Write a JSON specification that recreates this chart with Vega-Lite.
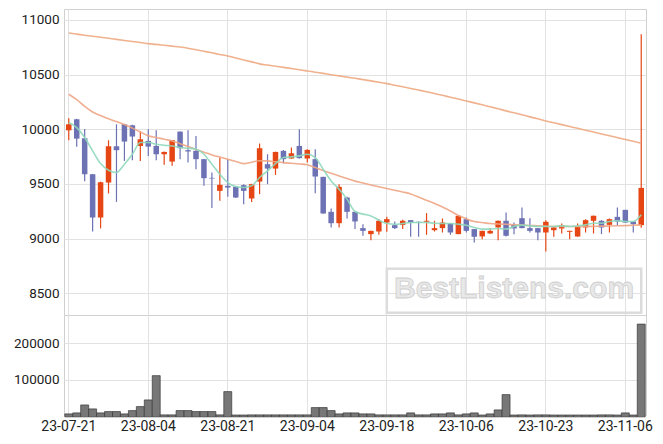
{
"$schema": "https://vega.github.io/schema/vega-lite/v6.json",
"padding": {"left": 12, "top": 8, "right": 10, "bottom": 11},
"background": "white",
"spacing": 0,
"bounds": "flush",
"config": {
 "font": "Roboto",
 "view": {"stroke": "#d0d0d0"},
 "axis": {"labelFont": "Roboto", "labelFontSize": 13.5, "labelColor": "#222", "gridColor": "#e2e2e2", "ticks": false, "domain": false, "labelPadding": 5, "title": null}
},
"datasets": {
"wm": [{"t": "BestListens.com", "xa": "23-09-18", "xb": "23-11-08", "xc": "23-10-17", "ya": 8723, "yb": 8321, "yc": 8535}],
"px": [
{"d":"23-07-21","o":9990,"h":10100,"l":9900,"c":10045,"v":8000,"m5":10061,"m60":10320,"m120":10880},
{"d":"23-07-24","o":10091,"h":10095,"l":9840,"c":9914,"v":10700,"m5":10015,"m60":10270,"m120":10870},
{"d":"23-07-25","o":9917,"h":10003,"l":9523,"c":9588,"v":32300,"m5":9924,"m60":10210,"m120":10860},
{"d":"23-07-26","o":9588,"h":9590,"l":9065,"c":9192,"v":21500,"m5":9802,"m60":10158,"m120":10851},
{"d":"23-07-27","o":9192,"h":9520,"l":9092,"c":9515,"v":10700,"m5":9686,"m60":10125,"m120":10841},
{"d":"23-07-28","o":9512,"h":9899,"l":9412,"c":9844,"v":14300,"m5":9625,"m60":10095,"m120":10832},
{"d":"23-07-31","o":9844,"h":10045,"l":9335,"c":9808,"v":14300,"m5":9604,"m60":10070,"m120":10822},
{"d":"23-08-01","o":10045,"h":10048,"l":9710,"c":9887,"v":8000,"m5":9680,"m60":10043,"m120":10812},
{"d":"23-08-02","o":10036,"h":10040,"l":9716,"c":9933,"v":17000,"m5":9771,"m60":10010,"m120":10802},
{"d":"23-08-03","o":9847,"h":9978,"l":9710,"c":9908,"v":27800,"m5":9878,"m60":9975,"m120":10793},
{"d":"23-08-04","o":9893,"h":10000,"l":9756,"c":9841,"v":45800,"m5":9878,"m60":9939,"m120":10783},
{"d":"23-08-07","o":9847,"h":9990,"l":9716,"c":9771,"v":111600,"m5":9863,"m60":9925,"m120":10776},
{"d":"23-08-08","o":9771,"h":9795,"l":9674,"c":9792,"v":5300,"m5":9853,"m60":9908,"m120":10768},
{"d":"23-08-09","o":9704,"h":9902,"l":9665,"c":9899,"v":5300,"m5":9847,"m60":9893,"m120":10760},
{"d":"23-08-10","o":9978,"h":9980,"l":9725,"c":9826,"v":17000,"m5":9832,"m60":9868,"m120":10752},
{"d":"23-08-11","o":9808,"h":9990,"l":9695,"c":9796,"v":17000,"m5":9826,"m60":9842,"m120":10741},
{"d":"23-08-14","o":9802,"h":9939,"l":9634,"c":9726,"v":14300,"m5":9817,"m60":9815,"m120":10727},
{"d":"23-08-16","o":9726,"h":9728,"l":9482,"c":9552,"v":14300,"m5":9771,"m60":9790,"m120":10713},
{"d":"23-08-17","o":9555,"h":9604,"l":9278,"c":9549,"v":14300,"m5":9680,"m60":9765,"m120":10699},
{"d":"23-08-18","o":9436,"h":9741,"l":9345,"c":9491,"v":5300,"m5":9588,"m60":9745,"m120":10684},
{"d":"23-08-21","o":9482,"h":9725,"l":9381,"c":9466,"v":68400,"m5":9512,"m60":9726,"m120":10670},
{"d":"23-08-22","o":9473,"h":9480,"l":9370,"c":9375,"v":5000,"m5":9476,"m60":9705,"m120":10652},
{"d":"23-08-23","o":9488,"h":9497,"l":9314,"c":9436,"v":5000,"m5":9467,"m60":9685,"m120":10634},
{"d":"23-08-24","o":9366,"h":9500,"l":9335,"c":9497,"v":5300,"m5":9482,"m60":9698,"m120":10616},
{"d":"23-08-25","o":9521,"h":9869,"l":9406,"c":9826,"v":5300,"m5":9558,"m60":9712,"m120":10598},
{"d":"23-08-28","o":9680,"h":9771,"l":9497,"c":9640,"v":5300,"m5":9619,"m60":9710,"m120":10587},
{"d":"23-08-29","o":9640,"h":9795,"l":9582,"c":9792,"v":5300,"m5":9686,"m60":9702,"m120":10576},
{"d":"23-08-30","o":9802,"h":9810,"l":9686,"c":9726,"v":5300,"m5":9741,"m60":9694,"m120":10566},
{"d":"23-08-31","o":9732,"h":9832,"l":9730,"c":9780,"v":5300,"m5":9747,"m60":9688,"m120":10555},
{"d":"23-09-01","o":9847,"h":10000,"l":9733,"c":9735,"v":5300,"m5":9756,"m60":9682,"m120":10544},
{"d":"23-09-04","o":9732,"h":9817,"l":9695,"c":9811,"v":5300,"m5":9771,"m60":9674,"m120":10533},
{"d":"23-09-05","o":9726,"h":9817,"l":9415,"c":9567,"v":25100,"m5":9741,"m60":9649,"m120":10522},
{"d":"23-09-06","o":9564,"h":9566,"l":9227,"c":9229,"v":25100,"m5":9634,"m60":9622,"m120":10511},
{"d":"23-09-07","o":9244,"h":9275,"l":9101,"c":9140,"v":17000,"m5":9527,"m60":9596,"m120":10499},
{"d":"23-09-08","o":9140,"h":9497,"l":9101,"c":9473,"v":8000,"m5":9451,"m60":9572,"m120":10488},
{"d":"23-09-11","o":9375,"h":9381,"l":9183,"c":9244,"v":10700,"m5":9360,"m60":9548,"m120":10477},
{"d":"23-09-12","o":9244,"h":9246,"l":9086,"c":9156,"v":10700,"m5":9247,"m60":9525,"m120":10466},
{"d":"23-09-13","o":9095,"h":9131,"l":9025,"c":9070,"v":8000,"m5":9223,"m60":9508,"m120":10454},
{"d":"23-09-14","o":9040,"h":9072,"l":8985,"c":9070,"v":8000,"m5":9207,"m60":9490,"m120":10442},
{"d":"23-09-15","o":9064,"h":9177,"l":9034,"c":9162,"v":5300,"m5":9168,"m60":9473,"m120":10430},
{"d":"23-09-18","o":9146,"h":9198,"l":9061,"c":9177,"v":5300,"m5":9137,"m60":9457,"m120":10417},
{"d":"23-09-19","o":9122,"h":9156,"l":9086,"c":9095,"v":5300,"m5":9131,"m60":9442,"m120":10402},
{"d":"23-09-20","o":9125,"h":9171,"l":9086,"c":9162,"v":5300,"m5":9137,"m60":9426,"m120":10388},
{"d":"23-09-21","o":9168,"h":9170,"l":9016,"c":9146,"v":10700,"m5":9147,"m60":9408,"m120":10373},
{"d":"23-09-22","o":9153,"h":9155,"l":9016,"c":9146,"v":5300,"m5":9147,"m60":9380,"m120":10358},
{"d":"23-09-25","o":9153,"h":9232,"l":9034,"c":9162,"v":5300,"m5":9147,"m60":9350,"m120":10343},
{"d":"23-09-26","o":9076,"h":9162,"l":9064,"c":9095,"v":8000,"m5":9140,"m60":9320,"m120":10327},
{"d":"23-09-27","o":9095,"h":9183,"l":9055,"c":9146,"v":8000,"m5":9137,"m60":9288,"m120":10310},
{"d":"23-10-04","o":9137,"h":9139,"l":9034,"c":9055,"v":10700,"m5":9137,"m60":9252,"m120":10293},
{"d":"23-10-05","o":9040,"h":9210,"l":9038,"c":9208,"v":5300,"m5":9131,"m60":9210,"m120":10276},
{"d":"23-10-06","o":9177,"h":9192,"l":9055,"c":9070,"v":8000,"m5":9122,"m60":9180,"m120":10259},
{"d":"23-10-10","o":9086,"h":9088,"l":8964,"c":9016,"v":10700,"m5":9101,"m60":9155,"m120":10241},
{"d":"23-10-11","o":9019,"h":9072,"l":8994,"c":9070,"v":5000,"m5":9086,"m60":9146,"m120":10223},
{"d":"23-10-12","o":9046,"h":9095,"l":9044,"c":9070,"v":8000,"m5":9086,"m60":9137,"m120":10205},
{"d":"23-10-13","o":9101,"h":9164,"l":8985,"c":9162,"v":18800,"m5":9092,"m60":9133,"m120":10187},
{"d":"23-10-16","o":9162,"h":9238,"l":9019,"c":9025,"v":60300,"m5":9086,"m60":9130,"m120":10168},
{"d":"23-10-17","o":9125,"h":9146,"l":9040,"c":9092,"v":5000,"m5":9110,"m60":9126,"m120":10150},
{"d":"23-10-18","o":9186,"h":9284,"l":9093,"c":9095,"v":5300,"m5":9122,"m60":9122,"m120":10132},
{"d":"23-10-19","o":9095,"h":9186,"l":9055,"c":9070,"v":5000,"m5":9116,"m60":9119,"m120":10113},
{"d":"23-10-20","o":9095,"h":9097,"l":8985,"c":9055,"v":5300,"m5":9110,"m60":9116,"m120":10095},
{"d":"23-10-23","o":9055,"h":9168,"l":8882,"c":9153,"v":5300,"m5":9110,"m60":9113,"m120":10076},
{"d":"23-10-24","o":9076,"h":9103,"l":9016,"c":9101,"v":5000,"m5":9110,"m60":9110,"m120":10059},
{"d":"23-10-25","o":9092,"h":9137,"l":9046,"c":9122,"v":5000,"m5":9116,"m60":9110,"m120":10042},
{"d":"23-10-26","o":9061,"h":9072,"l":8994,"c":9070,"v":5000,"m5":9110,"m60":9110,"m120":10025},
{"d":"23-10-27","o":9019,"h":9137,"l":9017,"c":9107,"v":5000,"m5":9116,"m60":9110,"m120":10008},
{"d":"23-10-30","o":9101,"h":9177,"l":9055,"c":9168,"v":5000,"m5":9125,"m60":9110,"m120":9991},
{"d":"23-10-31","o":9162,"h":9210,"l":9046,"c":9208,"v":5000,"m5":9140,"m60":9111,"m120":9974},
{"d":"23-11-01","o":9162,"h":9168,"l":9040,"c":9101,"v":5300,"m5":9140,"m60":9113,"m120":9957},
{"d":"23-11-02","o":9125,"h":9183,"l":9055,"c":9177,"v":5300,"m5":9156,"m60":9114,"m120":9940},
{"d":"23-11-03","o":9198,"h":9284,"l":9116,"c":9156,"v":5000,"m5":9162,"m60":9116,"m120":9923},
{"d":"23-11-06","o":9262,"h":9264,"l":9144,"c":9146,"v":10700,"m5":9156,"m60":9118,"m120":9906},
{"d":"23-11-07","o":9156,"h":9158,"l":9055,"c":9131,"v":5000,"m5":9156,"m60":9121,"m120":9889},
{"d":"23-11-08","o":9122,"h":10868,"l":9098,"c":9463,"v":251300,"m5":9217,"m60":9125,"m120":9872}
]},
"vconcat": [
 {
  "width": 582,
  "height": 306,
  "layer": [
   {
    "data": {"name": "px"},
    "mark": {"type": "rule", "strokeWidth": 1.2},
    "encoding": {
     "x": {"field": "d", "type": "ordinal", "sort": null,
           "scale": {"paddingInner": 0, "paddingOuter": 0.1},
           "axis": {"labels": false, "grid": true, "bandPosition": 0.5,
                    "values": ["23-07-21","23-08-04","23-08-21","23-09-04","23-09-18","23-10-06","23-10-23","23-11-06"]}},
     "y": {"field": "l", "type": "quantitative",
           "scale": {"domain": [8300, 11100], "nice": false, "zero": false},
           "axis": {"values": [8500, 9000, 9500, 10000, 10500, 11000], "grid": true, "format": "d"}},
     "y2": {"field": "h"},
     "color": {"condition": {"test": "datum.c >= datum.o", "value": "#e64614"}, "value": "#6c72b4"}
    }
   },
   {
    "data": {"name": "px"},
    "mark": {"type": "bar", "size": 5.5},
    "encoding": {
     "x": {"field": "d", "type": "ordinal", "sort": null},
     "y": {"field": "o", "type": "quantitative"},
     "y2": {"field": "c"},
     "color": {"condition": {"test": "datum.c >= datum.o", "value": "#e64614"}, "value": "#6c72b4"}
    }
   },
   {
    "data": {"name": "px"},
    "mark": {"type": "line", "color": "#eeaa82", "strokeWidth": 1.6, "opacity": 0.9, "interpolate": "monotone"},
    "encoding": {"x": {"field": "d", "type": "ordinal", "sort": null}, "y": {"field": "m120", "type": "quantitative"}}
   },
   {
    "data": {"name": "px"},
    "mark": {"type": "line", "color": "#eea585", "strokeWidth": 1.6, "opacity": 0.9, "interpolate": "monotone"},
    "encoding": {"x": {"field": "d", "type": "ordinal", "sort": null}, "y": {"field": "m60", "type": "quantitative"}}
   },
   {
    "data": {"name": "px"},
    "mark": {"type": "line", "color": "#8ed8bb", "strokeWidth": 1.6, "opacity": 0.9, "interpolate": "monotone"},
    "encoding": {"x": {"field": "d", "type": "ordinal", "sort": null}, "y": {"field": "m5", "type": "quantitative"}}
   },
   {
    "data": {"name": "wm"},
    "mark": {"type": "rect", "fill": "transparent", "stroke": "#dcdcdc", "strokeWidth": 2.5},
    "encoding": {
     "x": {"field": "xa", "type": "ordinal", "sort": null},
     "x2": {"field": "xb"},
     "y": {"field": "ya", "type": "quantitative"},
     "y2": {"field": "yb"}
    }
   },
   {
    "data": {"name": "wm"},
    "mark": {"type": "text", "font": "Liberation Sans", "fontWeight": "bold", "fontSize": 30, "fill": "#e8e8e8", "stroke": "#cfcfcf", "strokeWidth": 0.8, "align": "center", "baseline": "middle"},
    "encoding": {
     "text": {"field": "t"},
     "x": {"field": "xc", "type": "ordinal", "sort": null},
     "y": {"field": "yc", "type": "quantitative"}
    }
   }
  ]
 },
 {
  "width": 582,
  "height": 100,
  "data": {"name": "px"},
  "mark": {"type": "bar", "fill": "#777777", "stroke": "#3a3a3a", "strokeWidth": 0.7},
  "encoding": {
   "x": {"field": "d", "type": "ordinal", "sort": null,
         "scale": {"paddingInner": 0, "paddingOuter": 0.1},
         "axis": {"labelAngle": 0, "labelFontSize": 14, "labelPadding": 4, "grid": true, "bandPosition": 0.5,
                  "values": ["23-07-21","23-08-04","23-08-21","23-09-04","23-09-18","23-10-06","23-10-23","23-11-06"]}},
   "y": {"field": "v", "type": "quantitative",
         "scale": {"domain": [5000, 276000], "nice": false, "zero": false},
         "axis": {"values": [100000, 200000], "grid": true, "format": "d"}}
  }
 }
]
}
